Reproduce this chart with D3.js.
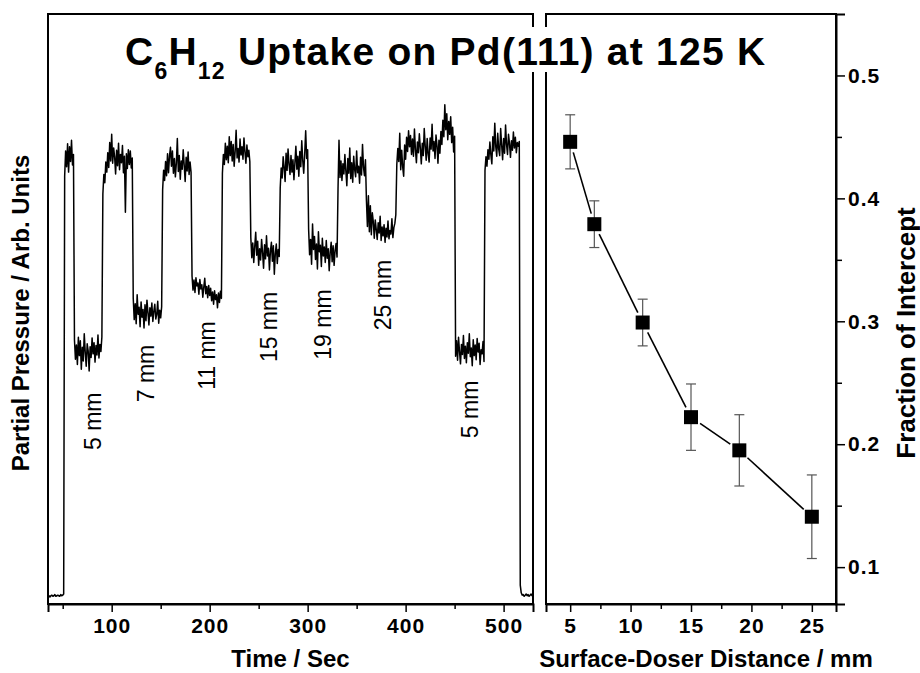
<!DOCTYPE html>
<html>
<head>
<meta charset="utf-8">
<script src="https://cdn.jsdelivr.net/npm/d3@7"></script>
<style>
  body { margin: 0; background: #fff; }
  svg { display: block; font-family: "Liberation Sans", Arial, sans-serif; }
</style>
</head>
<body>
<div id="chart"></div>
<script>
// Left panel: mass-spec trace, one value per second, split into dosing segments
const segStart = [35, 52, 62, 91, 122, 152, 182, 213, 242, 272, 301, 331, 360, 390, 451, 481, 517];
const segValues = [
  [1.3, 1.4, 1.2, 1.4, 1.5, 1.3, 1.4, 1.6, 1.3, 1.4, 1.5, 1.4, 1.3, 1.6, 1.4, 1.5, 1.7],
  [72.5, 76.8, 74.1, 78.0, 73.2, 77.5, 75.0, 78.6, 74.4, 76.2],
  [44.8, 41.5, 43.9, 40.6, 45.2, 42.1, 44.6, 39.8, 43.5, 41.2, 45.8, 42.7, 40.3, 44.1, 42.9, 39.5, 43.6, 41.8, 45.1, 42.4, 44.3, 41.0, 43.8, 42.2, 45.6, 41.7, 44.0, 42.8, 45.3],
  [69.5, 72.8, 71.4, 74.9, 73.2, 76.5, 74.0, 78.2, 75.1, 79.6, 74.7, 77.3, 75.8, 72.9, 76.9, 74.3, 78.1, 73.6, 76.2, 74.8, 77.7, 73.1, 75.9, 66.4, 76.3, 73.8, 77.0, 74.5, 76.8, 73.9, 75.6],
  [51.8, 48.2, 50.9, 47.5, 52.4, 49.1, 50.3, 47.0, 51.2, 48.6, 49.9, 46.8, 50.7, 48.0, 51.5, 49.4, 47.3, 50.2, 48.8, 51.0, 47.9, 49.6, 50.8, 48.3, 49.1, 51.3, 47.6, 49.8, 48.5, 50.4],
  [70.2, 73.5, 71.8, 75.0, 72.6, 76.3, 73.1, 75.9, 77.4, 74.2, 76.8, 73.0, 75.5, 72.4, 74.7, 78.9, 73.3, 76.0, 72.0, 75.1, 73.7, 77.0, 74.4, 71.6, 75.7, 73.4, 76.6, 72.8, 74.9, 73.2],
  [55.6, 53.2, 54.9, 52.8, 55.3, 53.9, 54.4, 52.5, 55.0, 53.4, 54.1, 52.0, 53.7, 55.2, 52.6, 53.8, 51.9, 54.0, 52.3, 53.5, 51.4, 52.9, 50.8, 53.1, 51.6, 52.4, 50.2, 52.7, 51.1, 53.0, 51.8],
  [73.0, 76.2, 74.5, 78.1, 75.3, 77.6, 74.8, 79.2, 76.0, 78.4, 75.1, 77.9, 74.2, 76.7, 80.3, 75.6, 77.2, 74.9, 78.8, 76.1, 77.5, 75.4, 79.0, 76.6, 74.7, 77.8, 75.8, 76.9, 75.0],
  [62.1, 58.7, 61.2, 57.9, 60.6, 63.0, 59.1, 61.5, 57.4, 60.2, 58.3, 61.8, 59.6, 56.9, 60.9, 58.5, 62.4, 59.0, 60.3, 56.6, 59.8, 61.3, 58.1, 60.7, 55.9, 59.4, 61.0, 57.7, 60.1, 58.9],
  [70.5, 73.9, 72.2, 75.8, 74.0, 71.6, 76.4, 73.5, 77.1, 74.6, 72.8, 76.0, 73.2, 75.3, 71.9, 74.8, 77.6, 73.7, 75.9, 72.5, 76.7, 74.1, 78.5, 75.2, 73.0, 76.3, 80.2, 75.5, 77.0],
  [63.5, 59.2, 61.8, 57.6, 64.4, 60.1, 62.3, 58.4, 61.0, 56.8, 63.1, 59.7, 60.8, 57.2, 62.0, 59.0, 60.5, 57.9, 61.6, 58.6, 60.2, 56.5, 59.6, 61.3, 58.0, 60.7, 57.4, 59.9, 61.1, 58.8],
  [70.4, 78.6, 72.3, 75.1, 71.8, 74.6, 72.9, 76.2, 73.4, 70.9, 75.5, 73.0, 77.3, 72.1, 74.8, 71.5, 75.9, 73.6, 72.4, 76.8, 73.1, 74.2, 71.3, 75.7, 72.7, 77.9, 74.0, 72.6, 75.3],
  [68.4, 64.0, 69.2, 63.1, 67.5, 62.6, 66.3, 64.8, 62.0, 65.1, 63.5, 61.8, 64.6, 62.9, 65.7, 61.6, 63.9, 62.4, 64.3, 61.3, 63.7, 62.2, 64.9, 61.9, 63.3, 62.7, 65.3, 62.1, 63.8, 64.5],
  [66.0, 74.5, 77.2, 75.0, 79.8, 73.6, 76.9, 74.1, 72.5, 77.8, 75.4, 79.1, 76.7, 80.2, 77.5, 79.4, 76.2, 78.8, 75.9, 80.5,
   77.0, 74.8, 78.3, 76.5, 79.7, 77.3, 74.6, 78.1, 76.0, 80.6, 77.6, 75.2, 78.9, 76.3, 74.9, 79.0, 77.1, 81.3, 76.8, 78.4,
   75.5, 79.5, 77.7, 74.7, 78.6, 76.4, 80.1, 77.9, 82.0, 79.2, 84.6, 80.4, 83.1, 78.7, 81.8, 79.6, 82.6, 78.2, 80.8, 76.6, 79.3],
  [42.0, 44.6, 41.3, 45.2, 42.8, 40.7, 44.0, 42.3, 45.5, 41.6, 43.7, 40.9, 44.3, 42.5, 45.8, 41.9, 43.4, 40.4, 44.8, 42.1, 43.9, 41.4, 45.0, 42.7, 44.2, 40.6, 43.1, 42.4, 44.5, 41.1],
  [73.5, 75.8, 74.2, 77.0, 75.4, 78.3, 76.1, 74.6, 79.2, 76.8, 81.5, 77.5, 75.9, 79.8, 77.1, 76.0, 80.6, 77.8, 75.3, 78.9, 76.4, 81.2, 77.9, 76.2, 79.6, 78.1, 75.7, 78.5, 76.9, 80.0, 77.3, 79.1, 76.5, 78.2, 77.6, 78.4],
  [3.2, 1.9, 1.5, 1.6, 1.3, 1.5, 1.7, 1.4, 1.6, 1.3, 1.5, 1.7, 1.4, 1.5]
];

// Dose annotations (time, level where text begins)
const doseLabels = ['5 mm', '7 mm', '11 mm', '15 mm', '19 mm', '25 mm', '5 mm'];
const doseTime = [81, 135, 197, 260, 316, 377, 466];
const doseLevel = [26.1, 34.2, 36.3, 41.0, 41.4, 46.4, 28.1];

// Right panel: fraction of intercept vs doser distance
const distance = [5, 7, 11, 15, 19, 25];
const fraction = [0.446, 0.379, 0.299, 0.222, 0.195, 0.141];
const fractionErr = [0.022, 0.019, 0.019, 0.027, 0.029, 0.034];

const timeTicks = [100, 200, 300, 400, 500];
const distTicks = [5, 10, 15, 20, 25];
const fracTicks = [0.1, 0.2, 0.3, 0.4, 0.5];

const width = 920, height = 673;
const plotTop = 14, plotBottom = 604;
const left1 = 48, right1 = 533;
const left2 = 546, right2 = 836;

const svg = d3.select('#chart').append('svg')
    .attr('width', width)
    .attr('height', height);

const x1 = d3.scaleLinear().domain([35, 530]).range([left1, right1]);
const y1 = d3.scaleLinear().domain([0, 100]).range([plotBottom, plotTop]);
const x2 = d3.scaleLinear().domain([3, 27]).range([left2, right2]);
const y2 = d3.scaleLinear().domain([0.07, 0.55]).range([plotBottom, plotTop]);

const trace = segValues.flatMap((vals, i) => vals.map((v, j) => ({ t: segStart[i] + j, v: v })));

// ---- left panel ----
svg.append('path')
    .datum(trace)
    .attr('fill', 'none')
    .attr('stroke', '#000')
    .attr('stroke-width', 1.5)
    .attr('stroke-linejoin', 'round')
    .attr('d', d3.line().x(d => x1(d.t)).y(d => y1(d.v)));

doseLabels.forEach((lab, i) => {
    svg.append('text')
        .attr('transform', `translate(${x1(doseTime[i])},${y1(doseLevel[i])}) rotate(-90)`)
        .attr('dy', '0.35em')
        .attr('font-size', '23px')
        .attr('fill', '#000')
        .text(lab);
});

svg.append('g')
    .attr('transform', `translate(0,${plotBottom})`)
    .call(d3.axisBottom(x1).tickValues(timeTicks).tickSize(8).tickPadding(6).tickFormat(d3.format('d')));
svg.append('g')
    .attr('transform', `translate(0,${plotBottom})`)
    .call(d3.axisBottom(x1).tickValues(d3.range(50, 530, 100)).tickSize(5).tickFormat(''))
    .select('.domain').remove();

svg.append('rect')
    .attr('x', left1).attr('y', plotTop)
    .attr('width', right1 - left1).attr('height', plotBottom - plotTop)
    .attr('fill', 'none').attr('stroke', '#000').attr('stroke-width', 2);

// ---- right panel ----
svg.append('g')
    .attr('transform', `translate(0,${plotBottom})`)
    .call(d3.axisBottom(x2).tickValues(distTicks).tickSize(8).tickPadding(6));
svg.append('g')
    .attr('transform', `translate(0,${plotBottom})`)
    .call(d3.axisBottom(x2).tickValues([7.5, 12.5, 17.5, 22.5]).tickSize(5).tickFormat(''))
    .select('.domain').remove();

svg.append('g')
    .attr('transform', `translate(${right2},0)`)
    .call(d3.axisRight(y2).tickValues(fracTicks).tickSize(9).tickPadding(3).tickFormat(d3.format('.1f')));
svg.append('g')
    .attr('transform', `translate(${right2},0)`)
    .call(d3.axisRight(y2).tickValues([0.15, 0.25, 0.35, 0.45]).tickSize(6).tickFormat(''))
    .select('.domain').remove();

svg.selectAll('.tick line').attr('stroke-width', 1.5);
svg.selectAll('.domain').attr('stroke-width', 2);
svg.selectAll('.tick text')
    .attr('font-family', '"Liberation Sans", Arial, sans-serif')
    .attr('font-size', '21px')
    .attr('font-weight', 'bold')
    .attr('letter-spacing', '1px')
    .attr('fill', '#000');

svg.append('rect')
    .attr('x', left2).attr('y', plotTop)
    .attr('width', right2 - left2).attr('height', plotBottom - plotTop)
    .attr('fill', 'none').attr('stroke', '#000').attr('stroke-width', 2);

// error bars
const pts = distance.map((d, i) => ({ d: d, f: fraction[i], e: fractionErr[i] }));
const err = svg.append('g').attr('stroke', '#555').attr('stroke-width', 1.2);
pts.forEach(p => {
    const cx = x2(p.d);
    err.append('line').attr('x1', cx).attr('x2', cx).attr('y1', y2(p.f + p.e)).attr('y2', y2(p.f - p.e));
    err.append('line').attr('x1', cx - 5).attr('x2', cx + 5).attr('y1', y2(p.f + p.e)).attr('y2', y2(p.f + p.e));
    err.append('line').attr('x1', cx - 5).attr('x2', cx + 5).attr('y1', y2(p.f - p.e)).attr('y2', y2(p.f - p.e));
});

// connecting line with gaps around the markers
const gap = 11;
for (let i = 0; i < pts.length - 1; i++) {
    const ax = x2(pts[i].d), ay = y2(pts[i].f);
    const bx = x2(pts[i + 1].d), by = y2(pts[i + 1].f);
    const len = Math.hypot(bx - ax, by - ay);
    const ux = (bx - ax) / len, uy = (by - ay) / len;
    svg.append('line')
        .attr('x1', ax + ux * gap).attr('y1', ay + uy * gap)
        .attr('x2', bx - ux * gap).attr('y2', by - uy * gap)
        .attr('stroke', '#000').attr('stroke-width', 1.6);
}

const msize = 14;
svg.selectAll('rect.marker')
    .data(pts)
    .join('rect')
    .attr('class', 'marker')
    .attr('x', p => x2(p.d) - msize / 2)
    .attr('y', p => y2(p.f) - msize / 2)
    .attr('width', msize).attr('height', msize)
    .attr('fill', '#000');

// ---- axis titles ----
svg.append('text')
    .attr('x', (left1 + right1) / 2).attr('y', 667)
    .attr('text-anchor', 'middle')
    .attr('font-size', '24px').attr('font-weight', 'bold')
    .text('Time / Sec');

svg.append('text')
    .attr('x', 706).attr('y', 667)
    .attr('text-anchor', 'middle')
    .attr('font-size', '24px').attr('font-weight', 'bold')
    .text('Surface-Doser Distance / mm');

svg.append('text')
    .attr('transform', 'translate(21,313) rotate(-90)')
    .attr('dy', '0.35em')
    .attr('text-anchor', 'middle')
    .attr('font-size', '24px').attr('font-weight', 'bold')
    .text('Partial Pressure / Arb. Units');

svg.append('text')
    .attr('transform', 'translate(906,333) rotate(-90)')
    .attr('dy', '0.35em')
    .attr('text-anchor', 'middle')
    .attr('font-size', '26px').attr('font-weight', 'bold')
    .text('Fraction of Intercept');

// ---- title, on a white patch over the panel borders ----
const titleBg = svg.append('rect').attr('fill', '#fff');
const title = svg.append('text')
    .attr('x', 125).attr('y', 65)
    .attr('font-size', '39px').attr('font-weight', 'bold');
title.append('tspan').text('C');
title.append('tspan').attr('font-size', '23px').attr('dy', 14).text('6');
title.append('tspan').attr('dy', -14).text('H');
title.append('tspan').attr('font-size', '23px').attr('dy', 14).text('12');
title.append('tspan').attr('dy', -14).text(' Uptake on Pd(111) at 125 K');

// stretch title to the width it has in the figure
const tw = title.node().getComputedTextLength();
title.attr('letter-spacing', Math.max(0, (640 - tw) / 31).toFixed(2) + 'px');
titleBg.attr('x', 122).attr('y', 27).attr('width', 650).attr('height', 45);
</script>
</body>
</html>
